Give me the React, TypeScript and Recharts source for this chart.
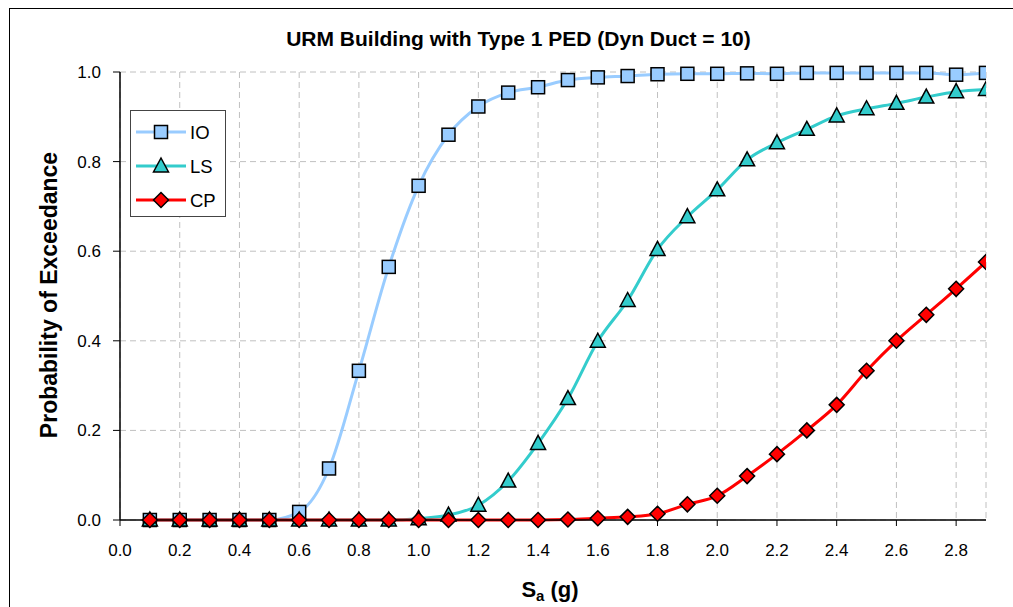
import { LineChart, Line, XAxis, YAxis, CartesianGrid, Legend, Label } from "recharts";

const saValues = [
  0.1, 0.2, 0.3, 0.4, 0.5, 0.6, 0.7, 0.8, 0.9, 1.0,
  1.1, 1.2, 1.3, 1.4, 1.5, 1.6, 1.7, 1.8, 1.9, 2.0,
  2.1, 2.2, 2.3, 2.4, 2.5, 2.6, 2.7, 2.8, 2.9,
];
const ioValues = [
  0, 0, 0, 0, 0, 0.018, 0.115, 0.333, 0.565, 0.746,
  0.86, 0.923, 0.954, 0.966, 0.982, 0.988, 0.991, 0.995, 0.996, 0.996,
  0.997, 0.996, 0.998, 0.998, 0.998, 0.998, 0.998, 0.994, 0.998,
];
const lsValues = [
  0, 0, 0, 0, 0, 0, 0, 0, 0, 0.003,
  0.011, 0.033, 0.087, 0.171, 0.271, 0.399, 0.49, 0.604, 0.677, 0.737,
  0.804, 0.842, 0.872, 0.902, 0.918, 0.93, 0.944, 0.956, 0.961,
];
const cpValues = [
  0, 0, 0, 0, 0, 0, 0, 0, 0, 0,
  0, 0, 0, 0, 0.001, 0.004, 0.007, 0.014, 0.035, 0.054,
  0.098, 0.147, 0.2, 0.257, 0.333, 0.4, 0.458, 0.516, 0.576,
];
const xTicks = [0, 0.2, 0.4, 0.6, 0.8, 1.0, 1.2, 1.4, 1.6, 1.8, 2.0, 2.2, 2.4, 2.6, 2.8];
const yTicks = [0, 0.2, 0.4, 0.6, 0.8, 1.0];

const data = saValues.map((sa, i) => ({ sa, io: ioValues[i], ls: lsValues[i], cp: cpValues[i] }));

const FONT = '"Liberation Sans", Arial, sans-serif';

const Square = (props: any) => {
  const { cx, cy } = props;
  if (cx == null || cy == null) return <g />;
  return <rect x={cx - 6.5} y={cy - 6.5} width={13} height={13} fill="#99ccff" stroke="#000" strokeWidth={1.5} />;
};

const Triangle = (props: any) => {
  const { cx, cy } = props;
  if (cx == null || cy == null) return <g />;
  return (
    <polygon
      points={`${cx},${cy - 8} ${cx + 7.5},${cy + 6} ${cx - 7.5},${cy + 6}`}
      fill="#33cccc"
      stroke="#000"
      strokeWidth={1.5}
    />
  );
};

const Diamond = (props: any) => {
  const { cx, cy } = props;
  if (cx == null || cy == null) return <g />;
  return (
    <polygon
      points={`${cx},${cy - 7.5} ${cx + 7.5},${cy} ${cx},${cy + 7.5} ${cx - 7.5},${cy}`}
      fill="#ff0000"
      stroke="#000"
      strokeWidth={1.5}
    />
  );
};

const legendItems = [
  { name: "IO", color: "#99ccff", Marker: Square },
  { name: "LS", color: "#33cccc", Marker: Triangle },
  { name: "CP", color: "#ff0000", Marker: Diamond },
];

const renderLegend = () => (
  <div style={{ width: 96, height: 107, border: "1px solid #444", background: "#fff", boxSizing: "border-box" }}>
    <svg width={94} height={105}>
      {legendItems.map((it, i) => {
        const y = 21 + i * 34;
        const M = it.Marker;
        return (
          <g key={it.name}>
            <line x1={5} x2={55} y1={y} y2={y} stroke={it.color} strokeWidth={3} />
            <M cx={30} cy={y} />
            <text x={59} y={y + 6.5} fontSize={18.5} fontFamily={FONT} fill="#000">
              {it.name}
            </text>
          </g>
        );
      })}
    </svg>
  </div>
);

const renderYLabel = () => (
  <text
    x={57}
    y={295}
    transform="rotate(-90 57 295)"
    textAnchor="middle"
    fontSize={23}
    fontWeight="bold"
    fontFamily={FONT}
    fill="#000"
  >
    Probability of Exceedance
  </text>
);

const renderXLabel = () => (
  <text x={550} y={597} textAnchor="middle" fontSize={22} fontWeight="bold" fontFamily={FONT} fill="#000">
    <tspan>S</tspan>
    <tspan fontSize={15} dy={4}>a</tspan>
    <tspan dy={-4}> (g)</tspan>
  </text>
);

export default function App() {
  return (
    <div style={{ position: "absolute", left: 0, top: 0, width: 1013, height: 607, overflow: "hidden", background: "#fff", fontFamily: FONT }}>
      <div style={{ position: "absolute", left: 9, top: 8, width: 1040, height: 650, border: "1.5px solid #000" }} />
      <div
        style={{
          position: "absolute",
          left: 0,
          top: 27,
          width: 1037,
          textAlign: "center",
          fontSize: 21,
          fontWeight: "bold",
          color: "#000",
        }}
      >
        URM Building with Type 1 PED (Dyn Duct = 10)
      </div>
      <div style={{ position: "absolute", left: 0, top: 0 }}>
        <LineChart width={1013} height={607} data={data} margin={{ top: 72, right: 27, bottom: 57, left: 60 }}>
          <CartesianGrid stroke="#c0c0c0" strokeDasharray="6 4" />
          <XAxis
            dataKey="sa"
            type="number"
            domain={[0, 2.9]}
            ticks={xTicks}
            allowDataOverflow
            tickFormatter={(v: number) => v.toFixed(1)}
            height={30}
            tickSize={6}
            tickMargin={18}
            axisLine={{ stroke: "#000", strokeWidth: 1.5 }}
            tickLine={{ stroke: "#000" }}
            tick={{ fontSize: 17, fill: "#000", fontFamily: FONT }}
          >
            <Label content={renderXLabel} />
          </XAxis>
          <XAxis
            xAxisId="top"
            orientation="top"
            dataKey="sa"
            type="number"
            domain={[0, 2.9]}
            height={0}
            tick={false}
            tickLine={false}
            axisLine={{ stroke: "#808080", strokeWidth: 1.5 }}
          />
          <YAxis
            type="number"
            domain={[0, 1]}
            ticks={yTicks}
            tickFormatter={(v: number) => v.toFixed(1)}
            width={60}
            tickSize={7}
            tickMargin={12}
            axisLine={{ stroke: "#000", strokeWidth: 1.5 }}
            tickLine={{ stroke: "#000" }}
            tick={{ fontSize: 17, fill: "#000", fontFamily: FONT }}
          >
            <Label content={renderYLabel} />
          </YAxis>
          <YAxis
            yAxisId="right"
            orientation="right"
            domain={[0, 1]}
            width={0}
            tick={false}
            tickLine={false}
            axisLine={{ stroke: "#808080", strokeWidth: 1.5 }}
          />
          <Legend
            layout="vertical"
            align="center"
            verticalAlign="middle"
            content={renderLegend}
            wrapperStyle={{ left: 130, top: 110, width: 96, height: 107 }}
          />
          <Line
            type="monotone"
            dataKey="io"
            stroke="#99ccff"
            strokeWidth={3}
            dot={<Square />}
            isAnimationActive={false}
          />
          <Line
            type="monotone"
            dataKey="ls"
            stroke="#33cccc"
            strokeWidth={3}
            dot={<Triangle />}
            isAnimationActive={false}
          />
          <Line
            type="monotone"
            dataKey="cp"
            stroke="#ff0000"
            strokeWidth={3}
            dot={<Diamond />}
            isAnimationActive={false}
          />
        </LineChart>
      </div>
    </div>
  );
}
